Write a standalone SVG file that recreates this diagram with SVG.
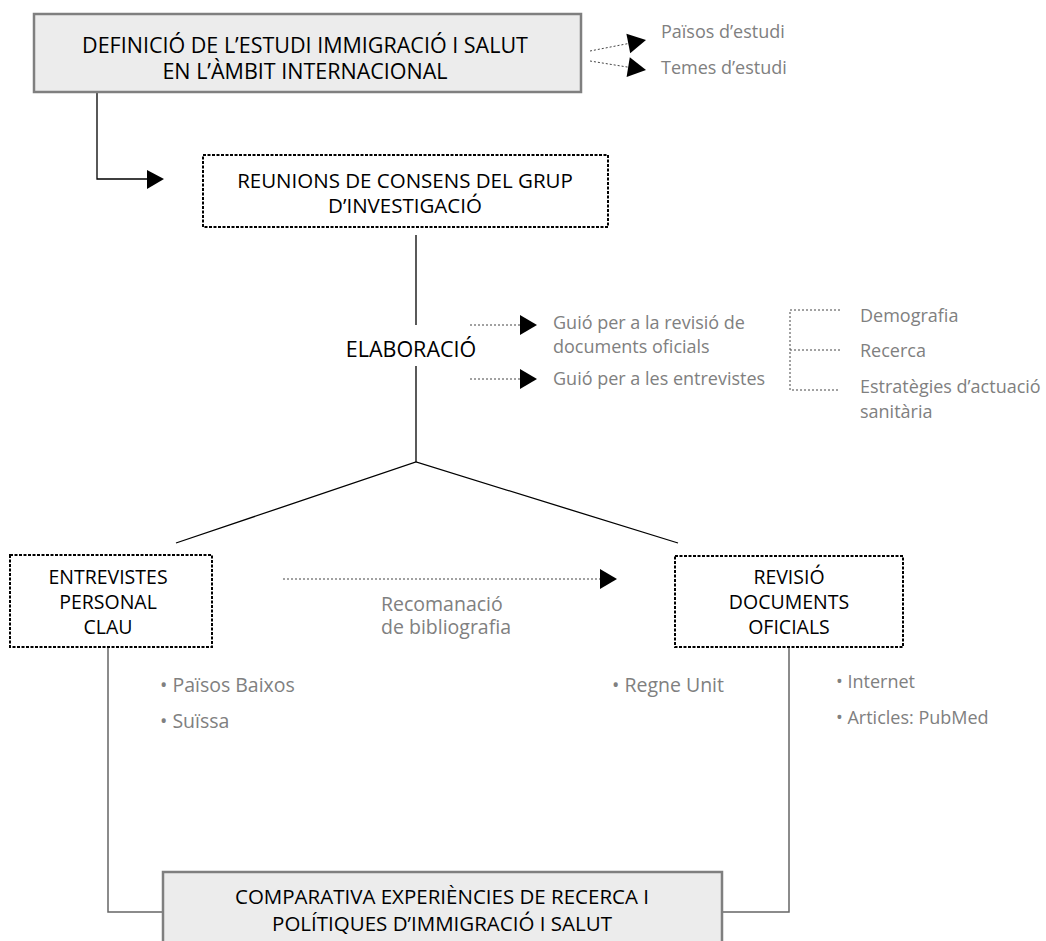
<svg xmlns="http://www.w3.org/2000/svg" width="1046" height="941" viewBox="0 0 1046 941">
<style>
.t{font-family:"Open Sans","Noto Sans",sans-serif;font-size:20.5px;fill:#000}
.tl{font-size:21.5px}
.ts{font-size:19.5px}
.g{font-family:"Open Sans","Noto Sans",sans-serif;font-size:18px;fill:#808080}
.gb{font-size:19.5px}
.solid{fill:#ececec;stroke:#7f7f7f;stroke-width:2.5}
.dash{fill:#fff;stroke:#000;stroke-width:2;stroke-dasharray:3 1.5}
.ln{fill:none;stroke:#000;stroke-width:1.3}
.gl{fill:none;stroke:#666;stroke-width:1.5}
.dot{fill:none;stroke:#444;stroke-width:1;stroke-dasharray:2 2}
.ah{fill:#000}
</style>
<rect width="1046" height="941" fill="#fff"/>
<g id="connectors">
<polyline class="ln" points="97,92 97,179 148,179"/>
<polygon class="ah" points="147,170 164,179 147,189"/>
<line class="ln" x1="416" y1="235" x2="416" y2="325"/>
<line class="ln" x1="416" y1="366" x2="416" y2="462"/>
<polyline class="ln" points="176,543 416,462 678,543"/>
<line class="dot" x1="590" y1="51" x2="629" y2="43.4"/>
<polygon class="ah" points="630.2,53.3 646,40 626.4,33.7"/>
<line class="dot" x1="590" y1="61" x2="629" y2="67.3"/>
<polygon class="ah" points="626.6,77 646,70 629.8,57.2"/>
<line class="dot" x1="470" y1="325" x2="521" y2="325"/>
<polygon class="ah" points="520,315 537,325 520,335"/>
<line class="dot" x1="470" y1="379" x2="521" y2="379"/>
<polygon class="ah" points="520,369 537,379 520,389"/>
<polyline class="dot" points="840,310 790,310 790,390 840,390"/>
<line class="dot" x1="790" y1="350" x2="840" y2="350"/>
<line class="dot" x1="283" y1="579" x2="601" y2="579"/>
<polygon class="ah" points="600,569 617,579 600,589"/>
<polyline class="gl" points="108,647 108,912 163,912"/>
<polyline class="gl" points="789,647 789,912 722,912"/>
</g>
<g id="n1">
<rect class="solid" x="34" y="14" width="547" height="78"/>
<text class="t tl" x="305" y="53" text-anchor="middle">DEFINICIÓ DE L’ESTUDI IMMIGRACIÓ I SALUT</text>
<text class="t tl" x="305" y="79" text-anchor="middle">EN L’ÀMBIT INTERNACIONAL</text>
</g>
<g id="n-paisos"><text class="g" x="661" y="38">Països d’estudi</text></g>
<g id="n-temes"><text class="g" x="661" y="74">Temes d’estudi</text></g>
<g id="n2">
<rect class="dash" x="203" y="155" width="405" height="72"/>
<text class="t" x="405" y="188" text-anchor="middle">REUNIONS DE CONSENS DEL GRUP</text>
<text class="t" x="405" y="213" text-anchor="middle">D’INVESTIGACIÓ</text>
</g>
<g id="n3"><text class="t tl" x="411" y="357" text-anchor="middle">ELABORACIÓ</text></g>
<g id="n-guio1">
<text class="g" x="553" y="329">Guió per a la revisió de</text>
<text class="g" x="553" y="353">documents oficials</text>
</g>
<g id="n-guio2"><text class="g" x="553" y="385">Guió per a les entrevistes</text></g>
<g id="n-demo"><text class="g" x="860" y="322">Demografia</text></g>
<g id="n-recerca"><text class="g" x="860" y="357">Recerca</text></g>
<g id="n-estr">
<text class="g" x="860" y="393">Estratègies d’actuació</text>
<text class="g" x="860" y="418">sanitària</text>
</g>
<g id="n4">
<rect class="dash" x="10" y="555" width="202" height="92"/>
<text class="t ts" x="108" y="584" text-anchor="middle">ENTREVISTES</text>
<text class="t ts" x="108" y="609" text-anchor="middle">PERSONAL</text>
<text class="t ts" x="108" y="634" text-anchor="middle">CLAU</text>
</g>
<g id="n5">
<rect class="dash" x="675" y="556" width="228" height="91"/>
<text class="t ts" x="789" y="584" text-anchor="middle">REVISIÓ</text>
<text class="t ts" x="789" y="609" text-anchor="middle">DOCUMENTS</text>
<text class="t ts" x="789" y="634" text-anchor="middle">OFICIALS</text>
</g>
<g id="n-recom">
<text class="g gb" x="381" y="611">Recomanació</text>
<text class="g gb" x="381" y="634">de bibliografia</text>
</g>
<g id="n-paisosb"><text class="g gb" x="160" y="692">• Països Baixos</text></g>
<g id="n-suissa"><text class="g gb" x="160" y="728">• Suïssa</text></g>
<g id="n-regne"><text class="g gb" x="612" y="692">• Regne Unit</text></g>
<g id="n-internet"><text class="g" x="836" y="688">• Internet</text></g>
<g id="n-articles"><text class="g" x="836" y="724">• Articles: PubMed</text></g>
<g id="n6">
<rect class="solid" x="163" y="872" width="559" height="80"/>
<text class="t" x="442" y="904" text-anchor="middle">COMPARATIVA EXPERIÈNCIES DE RECERCA I</text>
<text class="t" x="442" y="931" text-anchor="middle">POLÍTIQUES D’IMMIGRACIÓ I SALUT</text>
</g>
</svg>
